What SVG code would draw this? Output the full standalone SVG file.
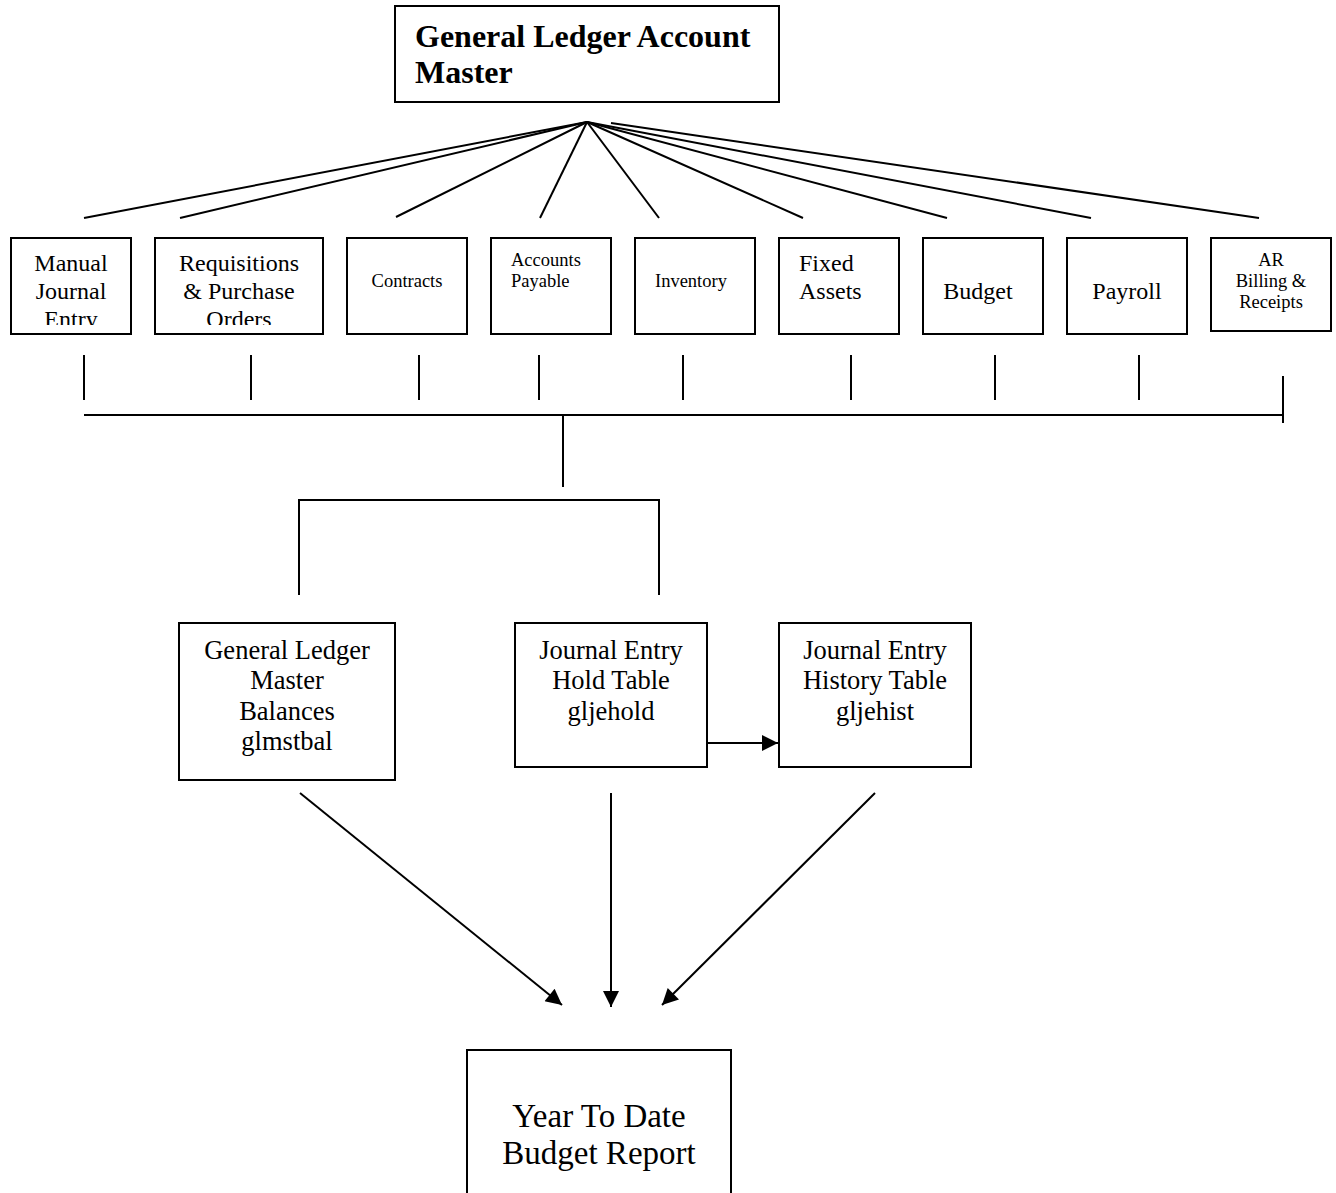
<svg xmlns="http://www.w3.org/2000/svg" width="1336" height="1193" viewBox="0 0 1336 1193">
<style>
.box{fill:#fff;stroke:#000;stroke-width:2}
.ln{stroke:#000;stroke-width:2;fill:none}
text{font-family:"Liberation Serif","Times New Roman",serif;fill:#000}
.m{text-anchor:middle}
.s{font-size:18.5px}
.l{font-size:24px}
.n{font-size:26.5px}
</style>
<defs>
<marker id="ah" viewBox="0 0 10 10" refX="10" refY="5" markerWidth="9" markerHeight="8" markerUnits="strokeWidth" orient="auto">
<path d="M0,0 L10,5 L0,10 z" fill="#000"/>
</marker>
<clipPath id="c1"><rect x="12" y="239" width="118" height="86"/></clipPath>
<clipPath id="c2"><rect x="156" y="239" width="166" height="86"/></clipPath>
</defs>
<rect width="1336" height="1193" fill="#fff"/>
<g id="connectors">
<line class="ln" x1="587" y1="122" x2="84" y2="218"/>
<line class="ln" x1="587" y1="122" x2="180" y2="218"/>
<line class="ln" x1="587" y1="122" x2="396" y2="217"/>
<line class="ln" x1="587" y1="122" x2="540" y2="218"/>
<line class="ln" x1="587" y1="122" x2="659" y2="218"/>
<line class="ln" x1="587" y1="122" x2="803" y2="218"/>
<line class="ln" x1="587" y1="122" x2="947" y2="218"/>
<line class="ln" x1="587" y1="122" x2="1091" y2="218"/>
<line class="ln" x1="611" y1="123" x2="1259" y2="218"/>
<line class="ln" x1="84" y1="355" x2="84" y2="400"/>
<line class="ln" x1="251" y1="355" x2="251" y2="400"/>
<line class="ln" x1="419" y1="355" x2="419" y2="400"/>
<line class="ln" x1="539" y1="355" x2="539" y2="400"/>
<line class="ln" x1="683" y1="355" x2="683" y2="400"/>
<line class="ln" x1="851" y1="355" x2="851" y2="400"/>
<line class="ln" x1="995" y1="355" x2="995" y2="400"/>
<line class="ln" x1="1139" y1="355" x2="1139" y2="400"/>
<line class="ln" x1="1283" y1="376" x2="1283" y2="423"/>
<line class="ln" x1="84" y1="415" x2="1283" y2="415"/>
<line class="ln" x1="563" y1="415" x2="563" y2="487"/>
<polyline class="ln" points="299,595 299,500 659,500 659,595"/>
<line class="ln" x1="707" y1="743" x2="778" y2="743" marker-end="url(#ah)"/>
<line class="ln" x1="300" y1="793" x2="562" y2="1005" marker-end="url(#ah)"/>
<line class="ln" x1="611" y1="793" x2="611" y2="1007" marker-end="url(#ah)"/>
<line class="ln" x1="875" y1="793" x2="662" y2="1005" marker-end="url(#ah)"/>
</g>
<g id="gl-account-master">
<rect class="box" x="395" y="6" width="384" height="96"/>
<text x="415" y="47" font-size="32" font-weight="bold">General Ledger Account</text>
<text x="415" y="83" font-size="32" font-weight="bold">Master</text>
</g>
<g id="manual-journal-entry">
<rect class="box" x="11" y="238" width="120" height="96"/>
<g clip-path="url(#c1)" class="l">
<text class="m" x="71" y="271">Manual</text>
<text class="m" x="71" y="299">Journal</text>
<text class="m" x="71" y="327">Entry</text>
</g>
</g>
<g id="requisitions">
<rect class="box" x="155" y="238" width="168" height="96"/>
<g clip-path="url(#c2)" class="l">
<text class="m" x="239" y="271">Requisitions</text>
<text class="m" x="239" y="299">&amp; Purchase</text>
<text class="m" x="239" y="327">Orders</text>
</g>
</g>
<g id="contracts">
<rect class="box" x="347" y="238" width="120" height="96"/>
<text class="m s" x="407" y="287">Contracts</text>
</g>
<g id="accounts-payable">
<rect class="box" x="491" y="238" width="120" height="96"/>
<text class="s" x="511" y="266">Accounts</text>
<text class="s" x="511" y="287">Payable</text>
</g>
<g id="inventory">
<rect class="box" x="635" y="238" width="120" height="96"/>
<text class="s" x="655" y="287">Inventory</text>
</g>
<g id="fixed-assets">
<rect class="box" x="779" y="238" width="120" height="96"/>
<text class="l" x="799" y="271">Fixed</text>
<text class="l" x="799" y="299">Assets</text>
</g>
<g id="budget">
<rect class="box" x="923" y="238" width="120" height="96"/>
<text class="m l" x="978" y="299">Budget</text>
</g>
<g id="payroll">
<rect class="box" x="1067" y="238" width="120" height="96"/>
<text class="m l" x="1127" y="299">Payroll</text>
</g>
<g id="ar-billing">
<rect class="box" x="1211" y="238" width="120" height="93"/>
<text class="m s" x="1271" y="266">AR</text>
<text class="m s" x="1271" y="287">Billing &amp;</text>
<text class="m s" x="1271" y="308">Receipts</text>
</g>
<g id="gl-master-balances">
<rect class="box" x="179" y="623" width="216" height="157"/>
<text class="m n" x="287" y="659">General Ledger</text>
<text class="m n" x="287" y="689">Master</text>
<text class="m n" x="287" y="720">Balances</text>
<text class="m n" x="287" y="750">glmstbal</text>
</g>
<g id="je-hold">
<rect class="box" x="515" y="623" width="192" height="144"/>
<text class="m n" x="611" y="659">Journal Entry</text>
<text class="m n" x="611" y="689">Hold Table</text>
<text class="m n" x="611" y="720">gljehold</text>
</g>
<g id="je-history">
<rect class="box" x="779" y="623" width="192" height="144"/>
<text class="m n" x="875" y="659">Journal Entry</text>
<text class="m n" x="875" y="689">History Table</text>
<text class="m n" x="875" y="720">gljehist</text>
</g>
<g id="ytd-budget-report">
<rect class="box" x="467" y="1050" width="264" height="160"/>
<text class="m" x="599" y="1127" font-size="33">Year To Date</text>
<text class="m" x="599" y="1164" font-size="33">Budget Report</text>
</g>
</svg>
